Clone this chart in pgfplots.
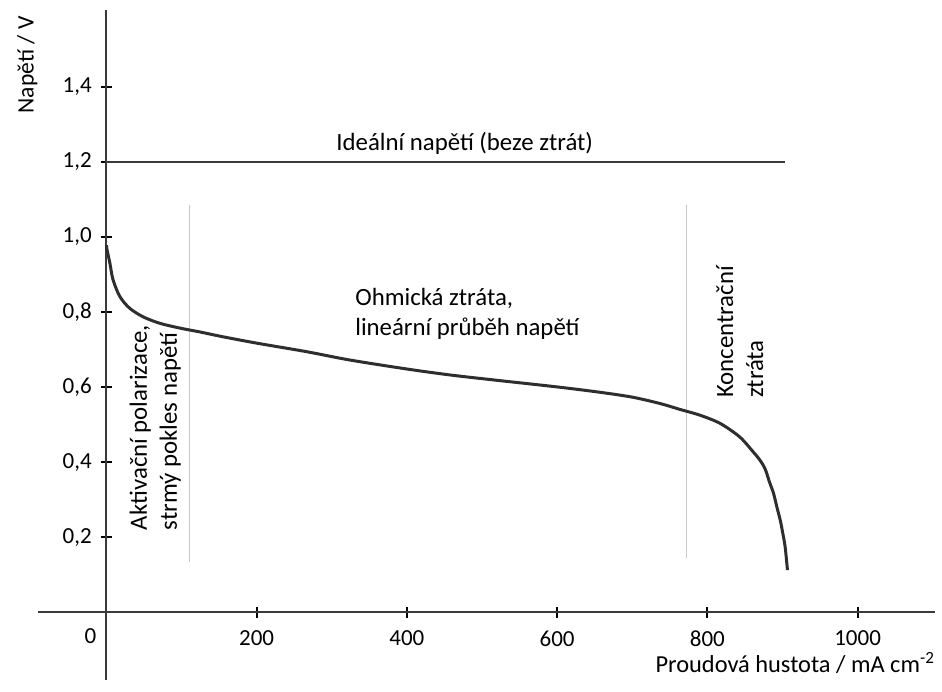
\documentclass[border=0pt]{standalone}
\usepackage{pgfplots}
\pgfplotsset{compat=1.18}
\usepackage{fontspec}
\setmainfont{Carlito}
\definecolor{axgray}{HTML}{3A3A3A}
\definecolor{curve}{HTML}{2E2E2E}
\definecolor{sep}{HTML}{C8C8C8}
\newcommand{\fs}{\fontsize{11.5}{13.8}\selectfont}
\newcommand{\fa}{\fontsize{12.4}{15}\selectfont}
\newcommand{\fx}{\fontsize{12.2}{14.6}\selectfont}
\newcommand{\fy}{\fontsize{11.8}{14}\selectfont}
\begin{document}
\begin{tikzpicture}[font=\fa]
\begin{axis}[
  name=ax,
  scale only axis,
  width=448.5pt, height=335pt,
  xmin=-91, xmax=1103,
  ymin=-0.181, ymax=1.605,
  axis lines=middle,
  axis line style={-, axgray, line width=1pt},
  xtick={200,400,600,800,1000},
  ytick={0.2,0.4,0.6,0.8,1.0,1.2,1.4},
  tick align=center,
  major tick length=5.5pt,
  tick style={black, line width=0.9pt},
  /pgf/number format/assume math mode=true,
  /pgf/number format/use comma,
  /pgf/number format/fixed,
  /pgf/number format/fixed zerofill,
  /pgf/number format/1000 sep={},
  yticklabel style={/pgf/number format/precision=1, font=\fs, xshift=-1pt},
  xticklabel style={/pgf/number format/precision=0, font=\fs, yshift=-3pt},
  scaled ticks=false,
  xlabel={Proudová hustota / mA cm\textsuperscript{-2}},
  x label style={at={(axis description cs:1,0.025)}, anchor=east, xshift=3.5pt, font=\fx},
  ylabel={Napětí / V},
  y label style={at={(axis description cs:-0.012,0.918)}, anchor=center, rotate=90, font=\fy},
  clip=false,
]
\addplot[sep, line width=0.5pt] coordinates {(110,0.133) (110,1.085)};
\addplot[sep, line width=0.5pt] coordinates {(772,0.144) (772,1.085)};
\addplot[axgray, line width=1pt] coordinates {(0,1.2) (903,1.2)};
\addplot[curve, line width=1.5pt, smooth] coordinates {
(0,0.978) (1,0.965) (4.7,0.93) (9,0.885) (18,0.841) (31,0.81) (49,0.787)
(71,0.77) (98,0.757) (124,0.747) (155,0.734) (200,0.717) (267,0.694)
(324,0.672) (400,0.648) (458,0.632) (524,0.617) (601,0.600) (657,0.586)
(700,0.573) (737,0.556) (764,0.540) (790,0.525) (817,0.503) (843,0.467)
(861,0.427) (870,0.405) (877,0.381) (882.6,0.347) (888,0.317) (892.4,0.281)
(897,0.245) (900.4,0.21) (903.5,0.174) (906.6,0.112)};
\node[font=\fs] at (axis cs:0,0) [xshift=-8pt, yshift=-12pt] {0};
\node at (axis cs:477,1.25) {Ideální napětí (beze ztrát)};
\node[align=left, anchor=west] at (axis cs:322,0.795) {Ohmická ztráta,\\lineární průběh napětí};
\node[align=left, anchor=west, rotate=90] at (axis cs:65,0.2) {Aktivační polarizace,\\strmý pokles napětí};
\node[align=left, anchor=west, rotate=90] at (axis cs:843,0.552) {Koncentrační\\ztráta};
\end{axis}
\path (ax.south west) ++(-19pt,-5.5pt) rectangle ++(471pt,345.5pt);
\end{tikzpicture}
\end{document}
